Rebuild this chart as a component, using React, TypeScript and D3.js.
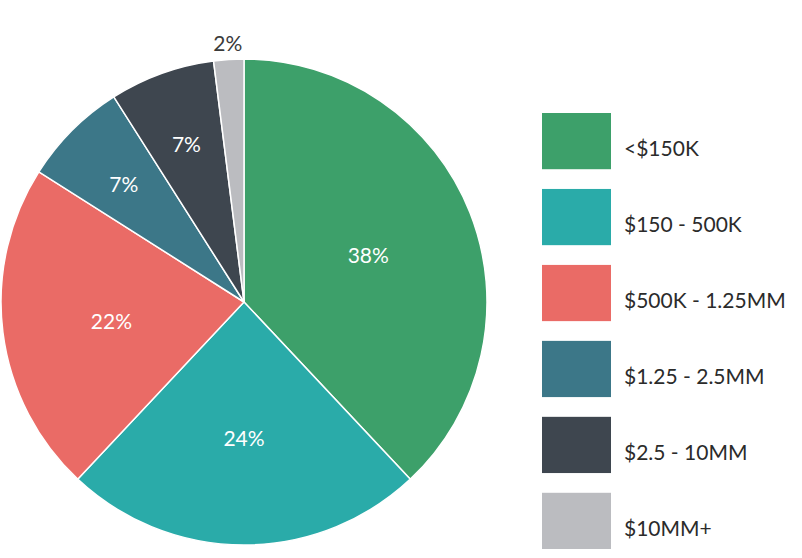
import React from "react";
import * as d3 from "d3";

const categories = ["<$150K", "$150 - 500K", "$500K - 1.25MM", "$1.25 - 2.5MM", "$2.5 - 10MM", "$10MM+"];
const values = [38, 24, 22, 7, 7, 2];
const colors = ["#3DA06A", "#2AABA9", "#EA6B66", "#3C7788", "#3E464F", "#BBBCC0"];

const W = 802;
const H = 558;
const cx = 244;
const cy = 302;
const R = 243;
const FONT = "'Lato', 'Noto Sans', sans-serif";

export default function App() {
  const pie = d3.pie<number>().sort(null).value((d) => d)(values);
  const arc = d3.arc<d3.PieArcDatum<number>>().innerRadius(0).outerRadius(R);
  const legendY = d3.scaleBand<number>().domain(d3.range(categories.length)).range([113, 549]).paddingInner(0.26).paddingOuter(0);

  const labelPos = (d: d3.PieArcDatum<number>) => {
    const frac = d.data < 5 ? 1.065 : d.data < 10 ? 0.7 : 0.55;
    const a = (d.startAngle + d.endAngle) / 2;
    return [Math.sin(a) * R * frac, -Math.cos(a) * R * frac + (d.data < 5 ? 0 : 3)];
  };

  return (
    <svg width={W} height={H} style={{ position: "absolute", left: 0, top: 0 }}>
      <rect width={W} height={H} fill="#ffffff" />
      <g transform={`translate(${cx},${cy})`}>
        {pie.map((d, i) => (
          <path key={i} d={arc(d) || ""} fill={colors[i]} stroke="#ffffff" strokeWidth={1.5} />
        ))}
        {pie.map((d, i) => {
          const [x, y] = labelPos(d);
          const outside = d.data < 5;
          return (
            <text key={i} x={x} y={y} dy="0.35em" textAnchor="middle" fontFamily={FONT} fontSize={21}
              fill={outside ? "#3a3a3a" : "#ffffff"}>
              {d.data}%
            </text>
          );
        })}
      </g>
      {categories.map((c, i) => {
        const y = legendY(i)!;
        const h = legendY.bandwidth();
        return (
          <g key={i}>
            <rect x={542} y={y} width={69} height={h} fill={colors[i]} />
            <text x={624} y={y + h / 2 + 15} fontFamily={FONT} fontSize={21} fill="#2b2b2b">{c}</text>
          </g>
        );
      })}
    </svg>
  );
}
